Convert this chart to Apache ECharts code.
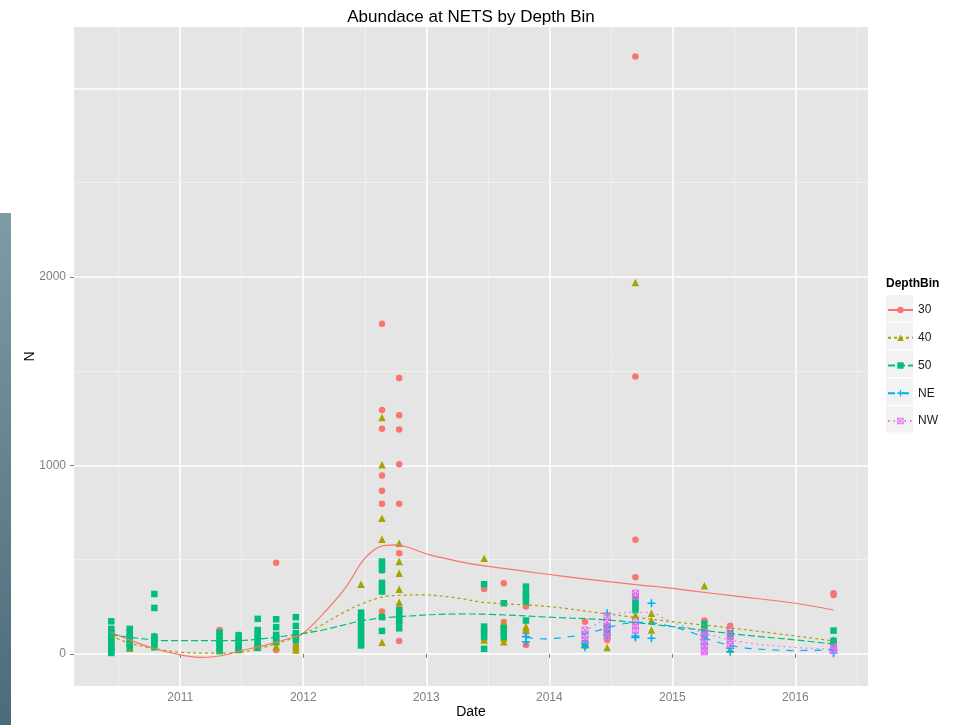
<!DOCTYPE html>
<html><head><meta charset="utf-8">
<script src="https://cdn.jsdelivr.net/npm/echarts@6/dist/echarts.min.js"></script>
<style>html,body{margin:0;padding:0;background:#fff}#c{width:966px;height:725px}</style>
</head><body><div id="c"></div>
<script>
// ---- data ----
const xBreaks = [2011, 2012, 2013, 2014, 2015, 2016];
const xMinor = [2010.5, 2011.5, 2012.5, 2013.5, 2014.5, 2015.5, 2016.5];
const yLabels = [0, 1000, 2000];
const yMajor = [0, 1000, 2000, 3000];
const yMinor = [500, 1500, 2500];
const groups = ['30', '40', '50', 'NE', 'NW'];

const pts30 = [
  [2010.44,122],[2010.44,64],[2010.44,40],
  [2010.59,65],[2010.59,100],
  [2010.79,90],
  [2011.32,127],[2011.32,60],
  [2011.475,25],
  [2011.63,40],
  [2011.78,484],[2011.78,21],[2011.78,70],
  [2011.94,92],[2011.94,45],
  [2012.47,184],[2012.47,154],[2012.47,120],
  [2012.64,1751],[2012.64,1294],[2012.64,1194],[2012.64,946],[2012.64,866],[2012.64,796],[2012.64,442],[2012.64,225],
  [2012.78,1464],[2012.78,1266],[2012.78,1190],[2012.78,1006],[2012.78,796],[2012.78,534],[2012.78,237],[2012.78,69],
  [2013.47,345],[2013.47,118],[2013.47,74],
  [2013.63,375],[2013.63,170],[2013.63,145],
  [2013.81,251],[2013.81,118],[2013.81,48],
  [2014.29,171],
  [2014.47,74],
  [2014.70,3168],[2014.70,1471],[2014.70,605],[2014.70,407],
  [2015.26,177],
  [2015.47,149],
  [2016.31,322],[2016.31,313]
];
const pts40 = [
  [2010.44,110],[2010.44,92],[2010.44,39],
  [2010.59,111],[2010.59,60],[2010.59,30],
  [2010.79,97],
  [2011.32,35],[2011.32,25],
  [2011.475,30],
  [2011.63,65],[2011.63,40],
  [2011.78,65],[2011.78,40],
  [2011.94,48],[2011.94,35],[2011.94,21],
  [2012.47,370],[2012.47,118],[2012.47,90],[2012.47,65],
  [2012.64,1254],[2012.64,1003],[2012.64,720],[2012.64,608],[2012.64,211],[2012.64,62],
  [2012.78,587],[2012.78,490],[2012.78,428],[2012.78,343],[2012.78,274],[2012.78,180],
  [2013.47,508],[2013.47,74],
  [2013.63,160],[2013.63,85],[2013.63,65],
  [2013.81,325],[2013.81,145],[2013.81,127],
  [2014.29,48],
  [2014.47,100],[2014.47,34],
  [2014.70,1970],[2014.70,207],
  [2014.83,216],[2014.83,177],[2014.83,127],
  [2015.26,362],
  [2015.47,25],
  [2016.31,74]
];
const pts50 = [
  [2010.44,173],[2010.44,133],[2010.44,115],[2010.44,95],[2010.44,75],[2010.44,55],[2010.44,35],[2010.44,15],[2010.44,5],
  [2010.59,133],[2010.59,115],[2010.59,95],[2010.59,75],[2010.59,55],[2010.59,35],
  [2010.79,318],[2010.79,244],[2010.79,92],[2010.79,75],[2010.79,55],[2010.79,35],
  [2011.32,113],[2011.32,95],[2011.32,74],[2011.32,55],[2011.32,35],[2011.32,15],
  [2011.475,100],[2011.475,80],[2011.475,60],[2011.475,40],[2011.475,21],
  [2011.63,186],[2011.63,127],[2011.63,110],[2011.63,90],[2011.63,70],[2011.63,50],[2011.63,32],
  [2011.78,184],[2011.78,142],[2011.78,101],[2011.78,83],[2011.78,65],
  [2011.94,195],[2011.94,149],[2011.94,110],[2011.94,90],[2011.94,74],
  [2012.47,219],[2012.47,195],[2012.47,170],[2012.47,145],[2012.47,120],[2012.47,95],[2012.47,70],[2012.47,45],
  [2012.64,490],[2012.64,470],[2012.64,446],[2012.64,377],[2012.64,355],[2012.64,331],[2012.64,195],[2012.64,122],
  [2012.78,233],[2012.78,210],[2012.78,190],[2012.78,171],[2012.78,136],
  [2013.47,370],[2013.47,145],[2013.47,120],[2013.47,92],[2013.47,27],
  [2013.63,269],[2013.63,138],[2013.63,115],[2013.63,92],
  [2013.81,357],[2013.81,323],[2013.81,300],[2013.81,277],[2013.81,177],
  [2014.29,57],
  [2014.47,145],[2014.47,120],
  [2014.70,290],[2014.70,277],[2014.70,250],[2014.70,233],
  [2015.26,159],[2015.26,130],[2015.26,100],
  [2015.47,110],[2015.47,90],
  [2016.31,124],[2016.31,70],[2016.31,50]
];
const ptsNE = [
  [2013.81,92],[2013.81,65],
  [2014.29,57],[2014.29,36],
  [2014.47,216],[2014.47,150],[2014.47,100],
  [2014.70,95],[2014.70,88],
  [2014.83,269],[2014.83,83],
  [2015.26,100],[2015.26,75],[2015.26,50],
  [2015.47,30],[2015.47,12],
  [2016.31,20],[2016.31,4]
];
const ptsNW = [
  [2014.29,127],[2014.29,100],[2014.29,74],
  [2014.47,198],[2014.47,170],[2014.47,145],[2014.47,120],[2014.47,92],
  [2014.70,322],[2014.70,304],[2014.70,171],[2014.70,150],[2014.70,124],
  [2015.26,118],[2015.26,95],[2015.26,70],[2015.26,45],[2015.26,20],[2015.26,12],
  [2015.47,120],[2015.47,95],[2015.47,70],[2015.47,50],
  [2016.31,39],[2016.31,30],[2016.31,18]
];

// loess smoothers
const fit30 = [[2010.43,118],[2010.59,74],[2010.78,30],[2011.0,-5],[2011.16,-18],[2011.32,-11],[2011.5,18],[2011.7,48],[2011.89,83],[2012.0,110],[2012.19,233],[2012.35,357],[2012.49,499],[2012.62,568],[2012.75,578],[2013.03,525],[2013.27,490],[2013.46,468],[2013.82,437],[2014.09,414],[2014.41,389],[2014.7,368],[2015.0,348],[2015.14,336],[2015.5,308],[2016.0,269],[2016.31,233]];
const fit40 = [[2010.44,95],[2010.59,57],[2010.78,30],[2011.0,9],[2011.27,4],[2011.46,7],[2011.7,39],[2011.95,92],[2012.14,150],[2012.3,210],[2012.49,269],[2012.7,308],[2012.98,313],[2013.27,295],[2013.46,274],[2014.0,251],[2014.47,212],[2015.0,171],[2015.5,136],[2016.0,95],[2016.31,69]];
const fit50 = [[2010.44,101],[2010.73,78],[2010.86,71],[2011.46,71],[2011.7,83],[2011.95,104],[2012.14,124],[2012.49,177],[2012.79,198],[2013.27,212],[2013.52,210],[2014.0,195],[2014.47,180],[2015.0,145],[2015.5,106],[2016.0,74],[2016.31,53]];
const fitNE = [[2013.81,88],[2013.95,80],[2014.2,95],[2014.4,125],[2014.6,160],[2014.75,168],[2014.93,155],[2015.14,118],[2015.31,74],[2015.55,36],[2015.8,22],[2016.0,18],[2016.31,22]];
const fitNW = [[2014.29,120],[2014.4,165],[2014.52,210],[2014.7,221],[2014.85,216],[2014.93,189],[2015.06,154],[2015.31,101],[2015.55,65],[2015.96,36],[2016.31,25]];

// ---- styling ----
const X_MIN = 2010.137, X_MAX = 2016.59;
const Y_MIN = -170, Y_MAX = 3325;
const FONT = '"Liberation Sans", Arial, sans-serif';
const colors = ['#F8766D', '#A3A500', '#00BF7D', '#00B0F6', '#E76BF3'];
const PLUS = 'path://M3.2,0H4.8V3.2H8V4.8H4.8V8H3.2V4.8H0V3.2H3.2Z';
const BOXX = 'path://M0,0L10,0L10,10L0,10Z M1.4,1.4L1.4,8.6L8.6,8.6L8.6,1.4Z M1,2L2,1L9,8L8,9Z M8,1L9,2L2,9L1,8Z';
const symbols = ['circle', 'triangle', 'rect', PLUS, BOXX];
const symSizes = [6.5, 7.5, 6.5, 8, 7];
const dashes = ['solid', [3, 3], [7, 3], [7, 7], [1.5, 4]];
const ptsAll = [pts30, pts40, pts50, ptsNE, ptsNW];
const fitAll = [fit30, fit40, fit50, fitNE, fitNW];

const series = [];
groups.forEach((g, i) => {
  series.push({
    type: 'line', name: g, data: fitAll[i], smooth: 0.35,
    showSymbol: false, symbol: symbols[i], symbolSize: symSizes[i],
    lineStyle: { color: colors[i], width: 1.2, type: dashes[i] },
    itemStyle: { color: colors[i] }, z: 4, silent: true,
    xAxisIndex: 0, yAxisIndex: 0
  });
});
groups.forEach((g, i) => {
  series.push({
    type: 'scatter', name: g, data: ptsAll[i],
    symbol: symbols[i], symbolSize: symSizes[i],
    itemStyle: { color: colors[i], opacity: 1 }, z: 3,
    xAxisIndex: 0, yAxisIndex: 0
  });
});

const grid = { left: 74, right: 98, top: 27, bottom: 39, show: true, backgroundColor: '#E5E5E5', borderWidth: 0 };
const tickColor = '#7F7F7F';
const fmt = v => String(v);

const legendKeys = groups.map((g, i) => ({
  type: 'rect', left: 886, top: 295 + i * 27.75, z: 0,
  shape: { width: 27, height: 26.5 }, style: { fill: '#F2F2F2' }
}));

const chart = echarts.init(document.getElementById('c'), null, { renderer: 'canvas' });
chart.setOption({
  animation: false,
  backgroundColor: '#FFFFFF',
  grid: grid,
  xAxis: [
    { type: 'value', min: X_MIN, max: X_MAX, gridIndex: 0,
      axisLine: { show: false },
      axisTick: { show: true, length: 4, lineStyle: { color: tickColor, width: 1 }, customValues: xBreaks },
      axisLabel: { customValues: xBreaks, formatter: fmt, color: tickColor, fontSize: 12, fontFamily: FONT, margin: 6 },
      splitLine: { show: true, lineStyle: { color: '#FFFFFF', width: 1.5 } },
      name: 'Date', nameLocation: 'middle', nameGap: 19, nameMoveOverlap: false,
      nameTextStyle: { color: '#000', fontSize: 14, fontFamily: FONT } },
    { type: 'value', min: X_MIN, max: X_MAX, gridIndex: 0,
      axisLine: { show: false },
      axisTick: { show: false, customValues: xMinor },
      axisLabel: { show: false, customValues: xMinor },
      splitLine: { show: true, lineStyle: { color: '#F2F2F2', width: 0.8 } } }
  ],
  yAxis: [
    { type: 'value', min: Y_MIN, max: Y_MAX, gridIndex: 0,
      axisLine: { show: false },
      axisTick: { show: true, length: 4, lineStyle: { color: tickColor, width: 1 }, customValues: yLabels },
      axisLabel: { customValues: yLabels, formatter: fmt, color: tickColor, fontSize: 12, fontFamily: FONT, margin: 8 },
      splitLine: { show: false },
      name: 'N', nameLocation: 'middle', nameGap: 37, nameMoveOverlap: false,
      nameTextStyle: { color: '#000', fontSize: 14, fontFamily: FONT } },
    { type: 'value', min: Y_MIN, max: Y_MAX, gridIndex: 0, position: 'left',
      axisLine: { show: false },
      axisTick: { show: false, customValues: yMajor },
      axisLabel: { show: false, customValues: yMajor },
      splitLine: { show: true, lineStyle: { color: '#FFFFFF', width: 1.5 } } },
    { type: 'value', min: Y_MIN, max: Y_MAX, gridIndex: 0, position: 'left',
      axisLine: { show: false },
      axisTick: { show: false, customValues: yMinor },
      axisLabel: { show: false, customValues: yMinor },
      splitLine: { show: true, lineStyle: { color: '#F2F2F2', width: 0.8 } } }
  ],
  legend: {
    data: groups, orient: 'vertical', left: 887, top: 304, padding: 0,
    itemWidth: 25, itemHeight: 8, itemGap: 15.75,
    textStyle: { color: '#1A1A1A', fontSize: 12, fontFamily: FONT },
    selectedMode: false
  },
  graphic: [
    { type: 'rect', left: 0, top: 213, z: 0, shape: { width: 11, height: 512 },
      style: { fill: new echarts.graphic.LinearGradient(0, 0, 0, 1, [
        { offset: 0, color: '#7E9BA6' }, { offset: 1, color: '#4C6B78' }]) } },
    { type: 'text', z: 10, style: { text: 'Abundace at NETS by Depth Bin', x: 471, y: 17,
      align: 'center', verticalAlign: 'middle', fill: '#000', font: '17px ' + FONT } },
    { type: 'text', z: 10, style: { text: 'DepthBin', x: 886, y: 284,
      align: 'left', verticalAlign: 'middle', fill: '#000', font: 'bold 12px ' + FONT } }
  ].concat(legendKeys),
  series: series
});
</script>
</body></html>
